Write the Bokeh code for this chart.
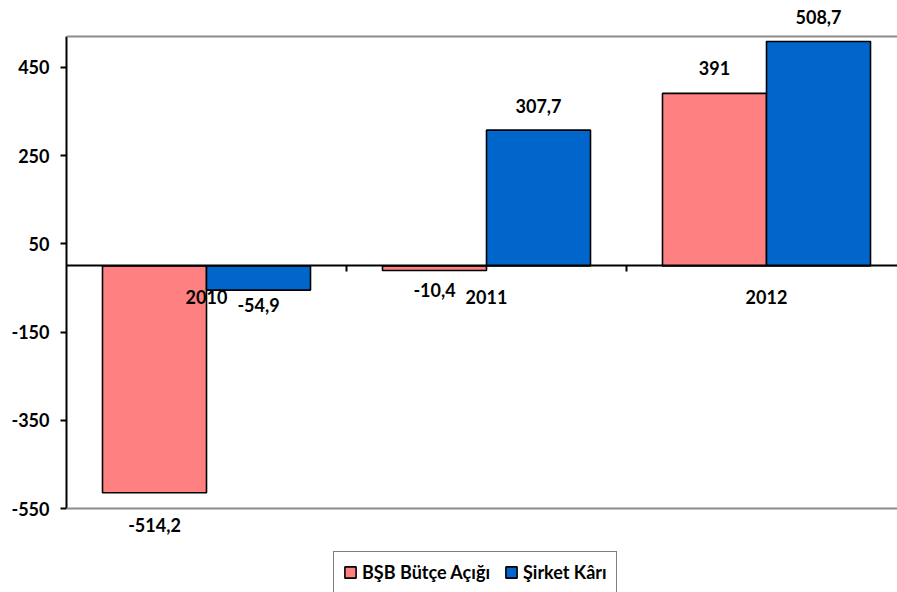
from bokeh.plotting import figure
from bokeh.models import (Range1d, FixedTicker, Span, Legend, LegendItem,
                          ColumnDataSource, LinearAxis)
from bokeh.core.properties import value
from bokeh.embed import file_html
from bokeh.resources import INLINE

# ---- data ----
years = ["2010", "2011", "2012"]
bsb_butce_acigi = [-514.2, -10.4, 391.0]
sirket_kari = [-54.9, 307.7, 508.7]
y_ticks = [-550, -350, -150, 50, 250, 450]
y_min, y_max = -550, 520

# ---- styles ----
FONT = value("Lato")
RED = "#FF8080"
BLUE = "#0066CC"
W, H = 897, 592
LEFT = 66
frame_w = W - LEFT
cat_px = 280
ppu = (508 - 36) / (y_max - y_min)      # pixels per unit
top_val = y_max + 36 / ppu
bot_val = top_val - H / ppu

# label offsets (screen px) for each series
red_dy = [32, 20, -25]
blue_dy = [15, -24, -24]

def fmt(v):
    return f"{v:g}".replace(".", ",")

n = len(years)
centers = [i + 0.5 for i in range(n)]
bw = 104 / cat_px
red_x = [c - bw / 2 for c in centers]
blue_x = [c + bw / 2 for c in centers]

src_r = ColumnDataSource(dict(x=red_x, top=bsb_butce_acigi,
                              lbl=[fmt(v) for v in bsb_butce_acigi], dy=red_dy))
src_b = ColumnDataSource(dict(x=blue_x, top=sirket_kari,
                              lbl=[fmt(v) for v in sirket_kari], dy=blue_dy))

p = figure(width=W, height=H, output_backend="svg", toolbar_location=None,
           x_range=Range1d(0, frame_w / cat_px), y_range=Range1d(bot_val, top_val),
           min_border_left=LEFT, min_border_right=0, min_border_top=0,
           min_border_bottom=0, x_axis_location=None, y_axis_location=None)
p.outline_line_color = None
p.xgrid.visible = False
p.ygrid.visible = False
p.background_fill_color = "white"

# plot area borders
p.add_layout(Span(location=y_max, dimension="width", line_color="#8C8C8C", line_width=2))
p.add_layout(Span(location=y_min, dimension="width", line_color="#8C8C8C", line_width=2))

r1 = p.vbar(x="x", top="top", bottom=0, width=bw, source=src_r,
            fill_color=RED, line_color="black", line_width=1.6)
r2 = p.vbar(x="x", top="top", bottom=0, width=bw, source=src_b,
            fill_color=BLUE, line_color="black", line_width=1.6)

for src in (src_r, src_b):
    p.text(x="x", y="top", text="lbl", y_offset="dy", source=src,
           text_align="center", text_baseline="middle", text_font=FONT,
           text_font_style="bold", text_font_size="18px", text_color="black")

# y axis
yax = LinearAxis(ticker=FixedTicker(ticks=y_ticks, minor_ticks=[]),
                 bounds=(y_min, y_max))
yax.major_label_overrides = {t: str(t) for t in y_ticks}
yax.axis_line_color = "black"
yax.axis_line_width = 2
yax.major_tick_line_color = "black"
yax.major_tick_line_width = 2
yax.major_tick_out = 6
yax.major_tick_in = 0
yax.minor_tick_line_color = None
yax.major_label_standoff = 11
yax.major_label_text_font = "Lato"
yax.major_label_text_font_style = "bold"
yax.major_label_text_font_size = "18px"
yax.major_label_text_color = "black"
p.add_layout(yax, "left")

# category axis at zero
xax = LinearAxis(ticker=FixedTicker(ticks=centers,
                                    minor_ticks=[float(i) for i in range(1, n)]),
                 fixed_location=0)
xax.major_label_overrides = {c: y for c, y in zip(centers, years)}
xax.axis_line_color = "black"
xax.axis_line_width = 2
xax.major_tick_line_color = None
xax.major_tick_out = 0
xax.major_tick_in = 0
xax.minor_tick_line_color = "black"
xax.minor_tick_line_width = 2
xax.minor_tick_out = 6
xax.minor_tick_in = 0
xax.major_label_standoff = 18
xax.major_label_text_font = "Lato"
xax.major_label_text_font_style = "bold"
xax.major_label_text_font_size = "18px"
xax.major_label_text_color = "black"
p.add_layout(xax, "below")

legend = Legend(items=[LegendItem(label="BŞB Bütçe Açığı", renderers=[r1]),
                       LegendItem(label="Şirket Kârı", renderers=[r2])],
                orientation="horizontal", location=(333 - LEFT, -1),
                border_line_color="black", border_line_width=1.5,
                padding=9, spacing=14, glyph_width=14, glyph_height=14,
                label_standoff=5, margin=0,
                label_text_font="Lato", label_text_font_style="bold",
                label_text_font_size="18px", label_text_color="black",
                background_fill_color="white", background_fill_alpha=1)
p.add_layout(legend, "center")

open("out.html", "w").write(file_html(p, INLINE))
